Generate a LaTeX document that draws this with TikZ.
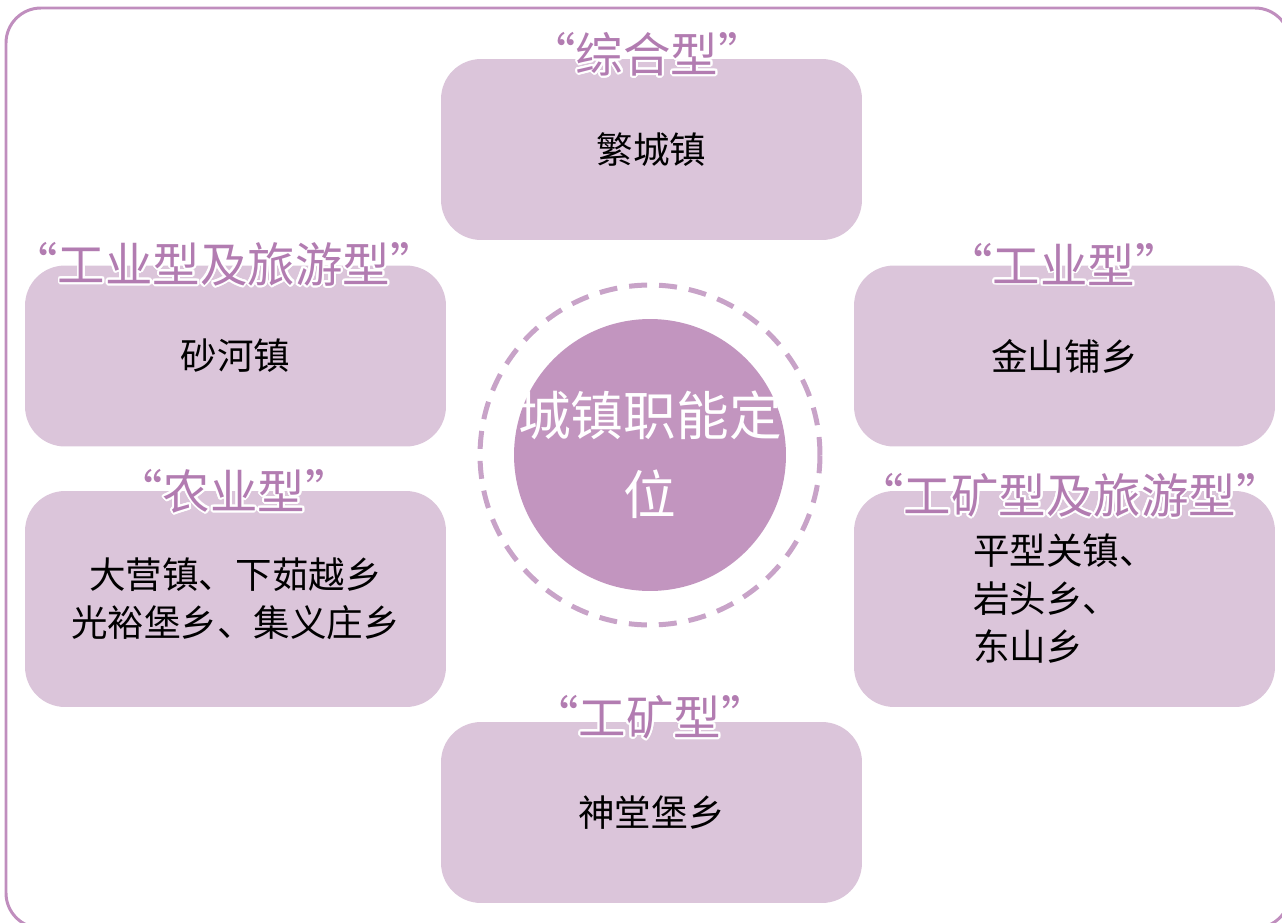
\documentclass[tikz,border=0pt]{standalone}
\usepackage{fontspec}
\setmainfont{Noto Sans CJK SC}
\usepackage[copies]{contour}
\usetikzlibrary{shapes,positioning}
\definecolor{boxfill}{HTML}{DBC5DA}
\definecolor{hubfill}{HTML}{C295BF}
\definecolor{ringcol}{HTML}{C8A3C8}
\definecolor{tagcol}{HTML}{B27CB1}
\definecolor{framecol}{HTML}{C08EBE}
\contourlength{1.1pt}
\contournumber{24}
\newcommand{\tagtext}[1]{\contour{white}{“#1”}}
\tikzstyle{town} = [rectangle, fill=boxfill, rounded corners=0.8cm,
minimum width=8.42cm, minimum height=3.62cm, font=\fontsize{20.8}{27.3}\selectfont, align=center]
\tikzstyle{towntall} = [town, minimum height=4.32cm]
\tikzstyle{tag} = [font=\fontsize{27}{27}\selectfont, text=tagcol, inner sep=0pt]
\tikzstyle{hub} = [circle, fill=hubfill, minimum size=5.44cm, inner sep=0pt]
\tikzstyle{hubtext} = [text=white, font=\fontsize{30}{45}\selectfont, align=center, inner sep=0pt]
\tikzstyle{ring} = [circle, draw=ringcol, line width=0.1cm, dash pattern=on 0.36cm off 0.24cm, minimum size=6.8cm]
\begin{document}
\begin{tikzpicture}[x=0.02cm, y=-0.02cm]
				\useasboundingbox (0,0) rectangle (1282,923);
				\draw[framecol, line width=1.7pt, rounded corners=0.7cm] (6,8) rectangle (1290,928);
				% Place nodes
				\node (ring) [ring] at (650,455) {};
				\node (hub) [hub] at (650,455) {};
				\node (hubtitle) [hubtext] at (hub) {城镇职能定\\位};
				\node (fancheng) [town] at (651.5,149.5) {繁城镇};
				\node (shahe) [town] at (235.5,356) {砂河镇};
				\node (jinshan) [town] at (1064.5,356) {金山铺乡};
				\node (nongye) [towntall] at (235.5,599) {大营镇、下茹越乡\\光裕堡乡、集义庄乡};
				\node (pingxing) [towntall, align=left] at (1064.5,599) {平型关镇、\\岩头乡、\\东山乡};
				\node (shentang) [town] at (651.5,812.5) {神堂堡乡};
				
				% Place tags
				\node (zonghetag) [tag] at (647,55) {\tagtext{综合型}};
				\node (lvyoutag) [tag] at (224,265) {\tagtext{工业型及旅游型}};
				\node (gongyetag) [tag] at (1064,265) {\tagtext{工业型}};
				\node (nongyetag) [tag] at (234,492) {\tagtext{农业型}};
				\node (kuanglvtag) [tag] at (1070,496) {\tagtext{工矿型及旅游型}};
				\node (gongkuangtag) [tag] at (650,718) {\tagtext{工矿型}};
				
			\end{tikzpicture}
\end{document}
